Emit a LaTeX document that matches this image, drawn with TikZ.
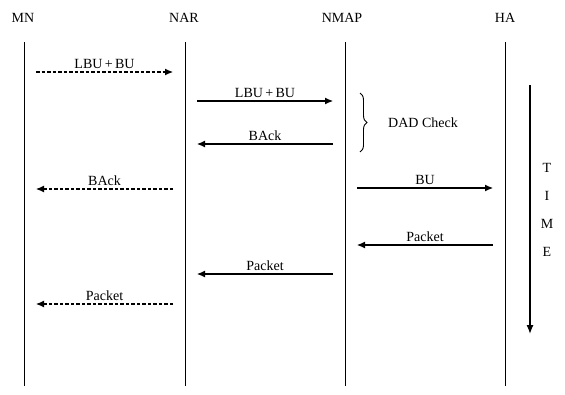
\documentclass[tikz,border=0pt]{standalone}
\usepackage{fontspec}
\setmainfont{Liberation Serif}
\usetikzlibrary{arrows.meta,decorations.pathreplacing}
\begin{document}
\begin{tikzpicture}[x=1pt,y=-1pt,
  every node/.style={font=\fontsize{14}{16}\selectfont},
  head/.style={inner sep=0pt},
  life/.style={line width=0.9pt},
  msg/.style={line width=1.1pt,-{Latex[length=8pt,width=7pt]},shorten >=12pt,shorten <=12pt},
  dmsg/.style={msg,dash pattern=on 3.5pt off 2pt},
  lbl/.style={midway,above=3pt,inner sep=0pt},
  timeline/.style={line width=1.3pt,-{Latex[length=9pt,width=7pt]}}]
\useasboundingbox (0,0) rectangle (565,394);
% headers
\node[head] (MN)   at (23,18)  {MN};
\node[head] (NAR)  at (184,18) {NAR};
\node[head] (NMAP) at (342,18) {NMAP};
\node[head] (HA)   at (505,18) {HA};
% lifelines
\foreach \n/\x in {mn/24,nar/185,nmap/345,ha/505}{
  \coordinate (\n top) at (\x,42);
  \coordinate (\n bot) at (\x,386);
  \draw[life] (\n top) -- (\n bot);
}
% message rows
\coordinate (mn1) at (24,72);   \coordinate (nar1) at (185,72);
\coordinate (nar2) at (185,101); \coordinate (nmap2) at (345,101);
\coordinate (nar3) at (185,144); \coordinate (nmap3) at (345,144);
\coordinate (mn4) at (24,189);  \coordinate (nar4) at (185,189);
\coordinate (nmap5) at (345,188); \coordinate (ha5) at (505,188);
\coordinate (nmap6) at (345,245); \coordinate (ha6) at (505,245);
\coordinate (nar7) at (185,274); \coordinate (nmap7) at (345,274);
\coordinate (mn8) at (24,304);  \coordinate (nar8) at (185,304);
\draw[dmsg] (mn1) -- node[lbl] {LBU\,+\,BU} (nar1);
\draw[msg] (nar2) -- node[lbl] {LBU\,+\,BU} (nmap2);
\draw[msg] (nmap3) -- node[lbl] {BAck} (nar3);
\draw[dmsg] (nar4) -- node[lbl] {BAck} (mn4);
\draw[msg] (nmap5) -- node[lbl] {BU} (ha5);
\draw[msg] (ha6) -- node[lbl] {Packet} (nmap6);
\draw[msg] (nmap7) -- node[lbl] {Packet} (nar7);
\draw[dmsg] (nar8) -- node[lbl] {Packet} (mn8);
% DAD check brace
\coordinate (b1) at (360,93);
\coordinate (b2) at (360,152);
\draw[line width=0.9pt,decorate,decoration={brace,amplitude=7pt}] (b1) -- (b2);
\node (dad) at (423,123) {DAD Check};
% time axis
\coordinate (t1) at (530,85);
\coordinate (t2) at (530,334);
\draw[timeline] (t1) -- (t2);
\node (T) at (547,168) {T};
\node (I) at (547,196) {I};
\node (M) at (547,224) {M};
\node (E) at (547,252) {E};
\end{tikzpicture}
\end{document}
